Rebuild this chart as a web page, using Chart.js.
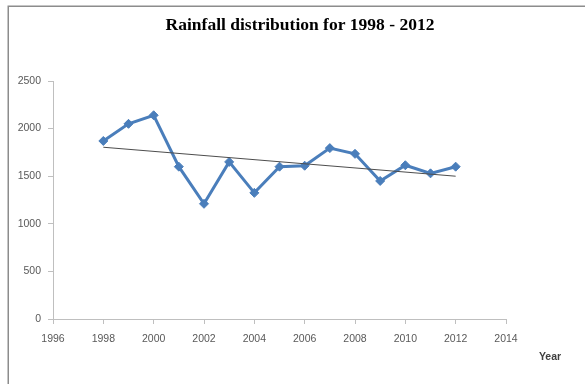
<!DOCTYPE html>
<html>
<head>
<meta charset="utf-8">
<script src="https://cdn.jsdelivr.net/npm/chart.js@4/dist/chart.umd.min.js"></script>
<style>
  html, body { margin: 0; padding: 0; background: #fff; }
  #wrap { position: relative; width: 585px; height: 384px; }
</style>
</head>
<body>
<div id="wrap"><canvas id="chart" width="585" height="384"></canvas></div>
<script>
// Annual rainfall, 1998 - 2012
const years = [1998, 1999, 2000, 2001, 2002, 2003, 2004, 2005, 2006, 2007, 2008, 2009, 2010, 2011, 2012];
const rainfall = [1870, 2050, 2140, 1600, 1210, 1650, 1325, 1600, 1610, 1795, 1735, 1450, 1615, 1530, 1600];
const yTicks = [0, 500, 1000, 1500, 2000, 2500];
const xTicks = [1996, 1998, 2000, 2002, 2004, 2006, 2008, 2010, 2012, 2014];
const chartTitle = 'Rainfall distribution for 1998 - 2012';
const xAxisLabel = 'Year';

// Least-squares linear trend over the observed years
function linearTrend(xs, ys) {
  const n = xs.length;
  const mx = xs.reduce((a, b) => a + b, 0) / n;
  const my = ys.reduce((a, b) => a + b, 0) / n;
  let num = 0, den = 0;
  for (let i = 0; i < n; i++) {
    num += (xs[i] - mx) * (ys[i] - my);
    den += (xs[i] - mx) * (xs[i] - mx);
  }
  const slope = num / den;
  return x => my + slope * (x - mx);
}
const trend = linearTrend(years, rainfall);
const trendPoints = [years[0], years[years.length - 1]].map(x => ({ x, y: trend(x) }));

const AXIS_COLOR = '#bfbfbf';
const TICK_COLOR = '#595959';
const tickFont = { family: 'Liberation Sans, Arial, sans-serif', size: 10.5 };

// Outer frame, title and axis caption
const decorations = {
  id: 'decorations',
  beforeDraw(chart) {
    const ctx = chart.ctx;
    ctx.save();
    ctx.fillStyle = '#ffffff';
    ctx.fillRect(0, 0, chart.width, chart.height);
    ctx.strokeStyle = '#8c8c8c';
    ctx.lineWidth = 1.5;
    ctx.strokeRect(8.25, 6.25, chart.width + 20, chart.height + 20);
    ctx.restore();
  },
  afterDraw(chart) {
    const ctx = chart.ctx;
    ctx.save();
    ctx.fillStyle = '#000000';
    ctx.font = 'bold 17.5px "Liberation Serif", "DejaVu Serif", serif';
    ctx.textAlign = 'center';
    ctx.textBaseline = 'middle';
    ctx.fillText(chartTitle, 300, 25);
    ctx.fillStyle = '#404040';
    ctx.font = 'bold 10.5px "Liberation Sans", Arial, sans-serif';
    ctx.fillText(xAxisLabel, 550, 357);
    ctx.restore();
  }
};

new Chart(document.getElementById('chart'), {
  type: 'line',
  data: {
    datasets: [
      {
        label: 'Linear trend',
        data: trendPoints,
        borderColor: '#4d4d4d',
        borderWidth: 1,
        pointRadius: 0,
        fill: false,
        order: 0
      },
      {
        label: 'Rainfall',
        data: years.map((y, i) => ({ x: y, y: rainfall[i] })),
        borderColor: '#4a7ebb',
        backgroundColor: '#4a7ebb',
        borderWidth: 3,
        pointStyle: 'rectRot',
        pointRadius: 4.5,
        pointBorderWidth: 1,
        fill: false,
        tension: 0,
        order: 1
      }
    ]
  },
  options: {
    responsive: false,
    animation: false,
    devicePixelRatio: 1,
    layout: { padding: { top: 81, right: 79, bottom: 0, left: 0 } },
    plugins: {
      legend: { display: false },
      tooltip: { enabled: false },
      title: { display: false }
    },
    scales: {
      x: {
        type: 'linear',
        min: xTicks[0],
        max: xTicks[xTicks.length - 1],
        afterBuildTicks(scale) { scale.ticks = xTicks.map(v => ({ value: v })); },
        afterFit(scale) { scale.height = 65; },
        ticks: {
          color: TICK_COLOR,
          font: tickFont,
          padding: 9,
          maxRotation: 0,
          autoSkip: false,
          callback: v => String(v)
        },
        grid: { drawOnChartArea: false, drawTicks: true, tickLength: 5, color: AXIS_COLOR },
        border: { color: AXIS_COLOR }
      },
      y: {
        min: yTicks[0],
        max: yTicks[yTicks.length - 1],
        afterBuildTicks(scale) { scale.ticks = yTicks.map(v => ({ value: v })); },
        afterFit(scale) { scale.width = 53; },
        ticks: {
          color: TICK_COLOR,
          font: tickFont,
          padding: 7,
          callback: v => String(v)
        },
        grid: { drawOnChartArea: false, drawTicks: true, tickLength: 5, color: AXIS_COLOR },
        border: { color: AXIS_COLOR }
      }
    }
  },
  plugins: [decorations]
});
</script>
</body>
</html>
